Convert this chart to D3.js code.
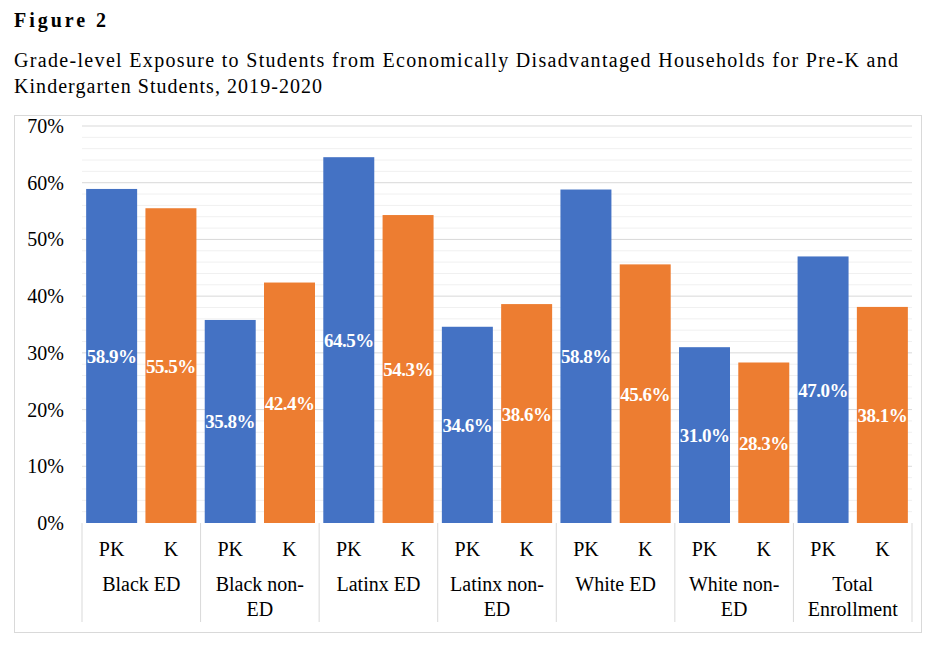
<!DOCTYPE html>
<html><head><meta charset="utf-8">
<script src="https://cdn.jsdelivr.net/npm/d3@7"></script>
<style>body{margin:0;background:#fff;font-family:"Liberation Serif",serif;}</style>
</head><body><div id="chart"></div>
<script>
var groups = [["Black ED"], ["Black non-", "ED"], ["Latinx ED"], ["Latinx non-", "ED"], ["White ED"], ["White non-", "ED"], ["Total", "Enrollment"]];
var grades = ["PK", "K"];
var pkValues = [58.9, 35.8, 64.5, 34.6, 58.8, 31.0, 47.0];
var kValues = [55.5, 42.4, 54.3, 38.6, 45.6, 28.3, 38.1];
var yTicks = [0, 10, 20, 30, 40, 50, 60, 70];
var colors = {PK: "#4472c4", K: "#ed7d31"};

var svg = d3.select("#chart").append("svg").attr("width", 936).attr("height", 646);
svg.append("text").attr("x", 14).attr("y", 27).attr("font-weight", "bold").attr("font-size", 20).attr("textLength", 92).text("Figure 2");
svg.append("text").attr("x", 14).attr("y", 67).attr("font-size", 20).attr("textLength", 884).text("Grade-level Exposure to Students from Economically Disadvantaged Households for Pre-K and");
svg.append("text").attr("x", 14).attr("y", 93).attr("font-size", 20).attr("textLength", 308).text("Kindergarten Students, 2019-2020");

svg.append("rect").attr("x", 14.5).attr("y", 115.5).attr("width", 907).attr("height", 517)
	.attr("fill", "none").attr("stroke", "#d9d9d9");

var x0 = d3.scaleBand().domain(d3.range(groups.length)).range([82, 912]);
var x1 = d3.scaleBand().domain(grades).range([0, x0.bandwidth()]).paddingInner(0.14).paddingOuter(0.07);
var y = d3.scaleLinear().domain([0, 70]).range([523, 126]);

var g = svg.append("g");
g.selectAll("line.minor").data(d3.range(2, 70, 2).filter(function(v) { return v % 10 !== 0; })).enter()
	.append("line").attr("x1", 82).attr("x2", 912).attr("y1", function(d) { return y(d); }).attr("y2", function(d) { return y(d); })
	.attr("stroke", "#f0f0f0");
g.selectAll("line.major").data(yTicks.slice(1)).enter()
	.append("line").attr("x1", 82).attr("x2", 912).attr("y1", function(d) { return y(d); }).attr("y2", function(d) { return y(d); })
	.attr("stroke", "#d9d9d9");
g.selectAll("text.ytick").data(yTicks).enter().append("text")
	.attr("x", 64).attr("y", function(d) { return y(d) + 7; }).attr("text-anchor", "end").attr("font-size", 20)
	.text(function(d) { return d + "%"; });

// category separators
g.selectAll("line.sep").data(d3.range(groups.length + 1)).enter().append("line")
	.attr("x1", function(d) { return d < groups.length ? x0(d) : 912; })
	.attr("x2", function(d) { return d < groups.length ? x0(d) : 912; })
	.attr("y1", 523).attr("y2", 622).attr("stroke", "#d9d9d9");

groups.forEach(function(name, i) {
	var vals = {PK: pkValues[i], K: kValues[i]};
	grades.forEach(function(gr) {
		var bx = x0(i) + x1(gr);
		g.append("rect").attr("x", bx).attr("y", y(vals[gr])).attr("width", x1.bandwidth()).attr("height", 523 - y(vals[gr]))
			.attr("fill", colors[gr]);
		g.append("text").attr("x", bx + x1.bandwidth() / 2).attr("y", (y(vals[gr]) + 523) / 2 + 7)
			.attr("text-anchor", "middle").attr("font-size", 19).attr("font-weight", "bold").attr("fill", "#fff")
			.attr("letter-spacing", -0.5)
			.text(vals[gr].toFixed(1) + "%");
		g.append("text").attr("x", bx + x1.bandwidth() / 2).attr("y", 556).attr("text-anchor", "middle").attr("font-size", 20)
			.text(gr);
	});
	name.forEach(function(line, j) {
		g.append("text").attr("x", x0(i) + x0.bandwidth() / 2).attr("y", 591 + j * 25).attr("text-anchor", "middle")
			.attr("font-size", 20).text(line);
	});
});
</script></body></html>
